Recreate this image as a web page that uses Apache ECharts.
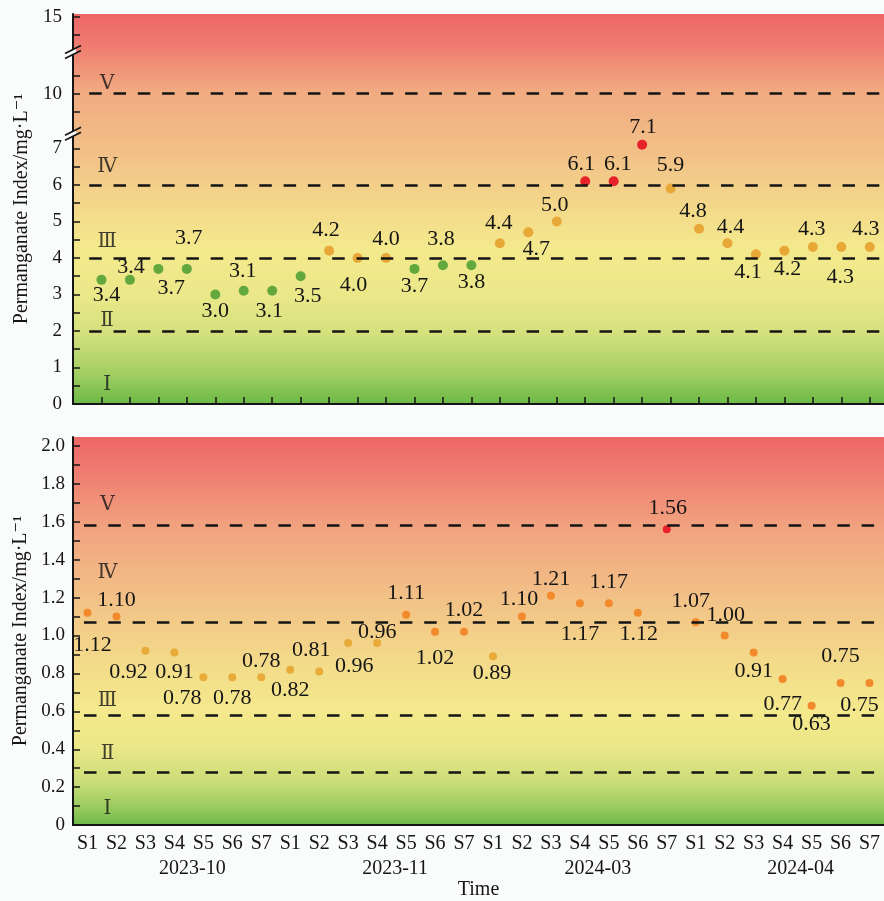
<!DOCTYPE html>
<html>
<head>
<meta charset="utf-8">
<script src="https://cdn.jsdelivr.net/npm/echarts@6/dist/echarts.min.js"></script>
<style>
  html, body { margin: 0; padding: 0; background: #fafbfb; }
  #chart { width: 884px; height: 901px; }
</style>
</head>
<body>
<div id="chart"></div>
<script>
var months = ['2023-10', '2023-11', '2024-03', '2024-04'];
var sites = ['S1', 'S2', 'S3', 'S4', 'S5', 'S6', 'S7'];
var grades = ['Ⅰ', 'Ⅱ', 'Ⅲ', 'Ⅳ', 'Ⅴ'];

// upper panel
var topValues = [3.4, 3.4, 3.7, 3.7, 3.0, 3.1, 3.1,
  3.5, 4.2, 4.0, 4.0, 3.7, 3.8, 3.8,
  4.4, 4.7, 5.0, 6.1, 6.1, 7.1, 5.9,
  4.8, 4.4, 4.1, 4.2, 4.3, 4.3, 4.3];
var topClass = [2, 2, 2, 2, 2, 2, 2,
  2, 3, 3, 3, 2, 2, 2,
  3, 3, 3, 4, 4, 4, 3,
  3, 3, 3, 3, 3, 3, 3];
var topLimits = [2, 4, 6, 10];
var topTickLabels = [0, 1, 2, 3, 4, 5, 6, 7, 10, 15];
var topMinorTicks = [0.5, 1.5, 2.5, 3.5, 4.5, 5.5, 6.5, 9.5, 10.5, 14.5];
var topGradeAt = [0.52, 2.28, 4.43, 6.5, 10.27];

// lower panel
var lowValues = [1.12, 1.10, 0.92, 0.91, 0.78, 0.78, 0.78,
  0.82, 0.81, 0.96, 0.96, 1.11, 1.02, 1.02,
  0.89, 1.10, 1.21, 1.17, 1.17, 1.12, 1.56,
  1.07, 1.00, 0.91, 0.77, 0.63, 0.75, 0.75];
var lowClass = [4, 4, 3, 3, 3, 3, 3,
  3, 3, 3, 3, 4, 4, 4,
  3, 4, 4, 4, 4, 4, 5,
  4, 4, 4, 4, 4, 4, 4];
var lowLimits = [0.28, 0.58, 1.075, 1.58];
var lowTickLabels = [0, 0.2, 0.4, 0.6, 0.8, 1.0, 1.2, 1.4, 1.6, 1.8, 2.0];
var lowMinorTicks = [0.1, 0.3, 0.5, 0.7, 0.9, 1.1, 1.3, 1.5, 1.7, 1.9];
var lowGradeAt = [0.084, 0.374, 0.654, 1.333, 1.69];

// where each value label sits relative to its point [dx, dy]
var topLabelShift = [[5, 15], [1, -13], [13, 19], [2, -31], [0, 17], [-1, -20], [-3, 20],
  [7, 20], [-3, -20], [-4, 27], [0, -19], [0, 17], [-2, -26], [0, 17],
  [-1, -20], [8, 17], [-2, -16], [-4, -17], [4, -17], [1, -18], [0, -23],
  [-6, -18], [3, -16], [-8, 18], [3, 19], [-1, -18], [-1, 30], [-4, -18]];
var lowLabelShift = [[5, 32], [0, -16], [-17, 22], [0, 20], [-21, 21], [0, 21], [0, -16],
  [0, 21], [-8, -21], [6, 23], [0, -11], [0, -21], [0, 27], [0, -21],
  [-1, 17], [-3, -17], [0, -16], [0, 31], [0, -21], [1, 21], [1, -21],
  [-5, -21], [1, -20], [0, 19], [0, 25], [0, 19], [0, -27], [-10, 22]];

var serif = "'Liberation Serif', 'Times New Roman', 'DejaVu Serif', serif";
var ink = '#151515';
var topColors = { 2: '#62a83e', 3: '#e8a838', 4: '#e8222b' };
var lowColors = { 3: '#e8ab3a', 4: '#f28a2c', 5: '#e8222b' };

var categories = [];
months.forEach(function () {
  sites.forEach(function (s) { categories.push(s); });
});

// broken upper axis: 0-7.x linear, then 9.5-10.5, then 14.5-15
function toU(v) {
  if (v <= 7.7) return v;
  if (v <= 11.5) return v - 1.5;
  return v - 4.4;
}

var topLabelU = topTickLabels.map(toU);
var topTickU = topTickLabels.concat(topMinorTicks).map(toU);

function grad(stops) {
  return { type: 'linear', x: 0, y: 0, x2: 0, y2: 1, colorStops: stops };
}

var chart = echarts.init(document.getElementById('chart'));

var option = {
  backgroundColor: '#fafbfb',
  animation: false,
  textStyle: { fontFamily: serif, color: ink },
  grid: [
    {
      left: 73, right: 0, top: 14, height: 390, show: true, borderWidth: 0,
      backgroundColor: grad([
        { offset: 0, color: '#ee6767' },
        { offset: 0.08, color: '#ef7b70' },
        { offset: 0.2, color: '#f1ab81' },
        { offset: 0.35, color: '#f2bf87' },
        { offset: 0.48, color: '#f3d68a' },
        { offset: 0.6, color: '#f4e98c' },
        { offset: 0.72, color: '#ebe889' },
        { offset: 0.82, color: '#d3e17d' },
        { offset: 0.92, color: '#a4cf63' },
        { offset: 1, color: '#6cb947' }
      ])
    },
    {
      left: 73, right: 0, top: 437, height: 389, show: true, borderWidth: 0,
      backgroundColor: grad([
        { offset: 0, color: '#ee6767' },
        { offset: 0.08, color: '#ef7a70' },
        { offset: 0.23, color: '#f1a27f' },
        { offset: 0.42, color: '#f2c287' },
        { offset: 0.6, color: '#f3dd8a' },
        { offset: 0.71, color: '#f4e98c' },
        { offset: 0.8, color: '#ebe788' },
        { offset: 0.89, color: '#cadd78' },
        { offset: 0.96, color: '#95c95c' },
        { offset: 1, color: '#6cb947' }
      ])
    }
  ],
  xAxis: [
    {
      type: 'value', gridIndex: 0, min: 0, max: 28.5,
      axisLine: { onZero: false, lineStyle: { color: ink, width: 2 } },
      axisTick: {
        inside: true, length: 7, lineStyle: { color: ink, width: 1.5 },
        customValues: categories.map(function (c, i) { return i + 1; })
      },
      axisLabel: { show: false },
      splitLine: { show: false }
    },
    {
      type: 'category', gridIndex: 1, data: categories, boundaryGap: true,
      axisLine: { onZero: false, lineStyle: { color: ink, width: 2 } },
      axisTick: { inside: true, alignWithLabel: true, length: 7, lineStyle: { color: ink, width: 1.5 } },
      axisLabel: { margin: 9, fontSize: 20, fontFamily: serif, color: ink, interval: 0 },
      splitLine: { show: false }
    },
    {
      type: 'category', gridIndex: 1, data: months, boundaryGap: true, position: 'bottom',
      axisLine: { show: false },
      axisTick: { show: false },
      axisLabel: { margin: 34, fontSize: 20, fontFamily: serif, color: ink, padding: [0, 0, 0, 36] },
      name: 'Time', nameLocation: 'middle', nameGap: 53,
      nameTextStyle: { fontSize: 20, fontFamily: serif, color: ink }
    }
  ],
  yAxis: [
    {
      type: 'value', gridIndex: 0, min: 0, max: 10.68,
      axisLine: { show: true, onZero: false, lineStyle: { color: ink, width: 2 } },
      axisTick: { show: true, inside: true, length: 7, lineStyle: { color: ink, width: 1.5 }, customValues: topTickU },
      axisLabel: {
        margin: 11, fontSize: 19, fontFamily: serif, color: ink, customValues: topLabelU,
        formatter: function (u) {
          for (var i = 0; i < topLabelU.length; i++) {
            if (Math.abs(topLabelU[i] - u) < 1e-6) return String(topTickLabels[i]);
          }
          return '';
        }
      },
      splitLine: { show: false },
      name: 'Permanganate Index/mg·L⁻¹', nameLocation: 'middle', nameGap: 41,
      nameTextStyle: { fontSize: 20, fontFamily: serif, color: ink }
    },
    {
      type: 'value', gridIndex: 1, min: 0, max: 2.047,
      axisLine: { show: true, onZero: false, lineStyle: { color: ink, width: 2 } },
      axisTick: { show: true, inside: true, length: 7, lineStyle: { color: ink, width: 1.5 }, customValues: lowTickLabels.concat(lowMinorTicks) },
      axisLabel: {
        margin: 8, fontSize: 19, fontFamily: serif, color: ink, customValues: lowTickLabels,
        formatter: function (v) { return v === 0 ? '0' : v.toFixed(1); }
      },
      splitLine: { show: false },
      name: 'Permanganate Index/mg·L⁻¹', nameLocation: 'middle', nameGap: 41,
      nameTextStyle: { fontSize: 20, fontFamily: serif, color: ink }
    }
  ],
  series: [
    {
      // class limits, upper
      type: 'scatter', xAxisIndex: 0, yAxisIndex: 0, data: [], z: 1, silent: true,
      markLine: {
        silent: true, symbol: 'none', label: { show: false },
        lineStyle: { color: ink, width: 2.5, type: [12.5, 11.8], opacity: 1 },
        data: topLimits.map(function (v) {
          return [{ coord: [0.57, toU(v)] }, { coord: [28.5, toU(v)] }];
        })
      }
    },
    {
      type: 'scatter', xAxisIndex: 0, yAxisIndex: 0, z: 3, symbolSize: 10,
      data: topValues.map(function (v, i) {
        return {
          value: [i + 1, toU(v)],
          itemStyle: { color: topColors[topClass[i]], opacity: 1 },
          label: { offset: topLabelShift[i] }
        };
      }),
      label: {
        show: true, position: 'inside', fontSize: 22, fontFamily: serif, color: ink,
        formatter: function (p) { return topValues[p.dataIndex].toFixed(1); }
      }
    },
    {
      type: 'scatter', xAxisIndex: 0, yAxisIndex: 0, z: 2, symbolSize: 0, silent: true,
      data: topGradeAt.map(function (v) { return [1.2, toU(v)]; }),
      label: {
        show: true, position: 'inside', fontSize: 20, fontFamily: serif, color: ink,
        formatter: function (p) { return grades[p.dataIndex]; }
      }
    },
    {
      // class limits, lower
      type: 'scatter', xAxisIndex: 1, yAxisIndex: 1, data: [], z: 1, silent: true,
      markLine: {
        silent: true, symbol: 'none', label: { show: false },
        lineStyle: { color: ink, width: 2.5, type: [12.5, 11.8], dashOffset: 13.3, opacity: 1 },
        data: lowLimits.map(function (v) { return { yAxis: v }; })
      }
    },
    {
      type: 'scatter', xAxisIndex: 1, yAxisIndex: 1, z: 3, symbolSize: 8,
      data: lowValues.map(function (v, i) {
        return {
          value: [i, v],
          itemStyle: { color: lowColors[lowClass[i]], opacity: 1 },
          label: { offset: lowLabelShift[i] }
        };
      }),
      label: {
        show: true, position: 'inside', fontSize: 22, fontFamily: serif, color: ink,
        formatter: function (p) { return lowValues[p.dataIndex].toFixed(2); }
      }
    },
    {
      type: 'scatter', xAxisIndex: 1, yAxisIndex: 1, z: 2, symbolSize: 0, silent: true,
      data: lowGradeAt.map(function (v) { return [0, v]; }),
      label: {
        show: true, position: 'inside', offset: [20, 0], fontSize: 20, fontFamily: serif, color: ink,
        formatter: function (p) { return grades[p.dataIndex]; }
      }
    }
  ]
};

chart.setOption(option);

// "//" break marks on the upper y axis
function breakMark(u) {
  var p = chart.convertToPixel({ gridIndex: 0 }, [0, u]);
  var x = p[0], y = p[1];
  return [
    {
      type: 'polygon', z: 100, silent: true,
      shape: { points: [[x - 3, y - 1], [x + 3, y - 4], [x + 3, y + 1], [x - 3, y + 4]] },
      style: { fill: '#fafbfb' }
    },
    {
      type: 'line', z: 101, silent: true,
      shape: { x1: x - 8, y1: y + 1.5, x2: x + 8, y2: y - 6.5 },
      style: { stroke: ink, lineWidth: 1.8 }
    },
    {
      type: 'line', z: 101, silent: true,
      shape: { x1: x - 8, y1: y + 6.5, x2: x + 8, y2: y - 1.5 },
      style: { stroke: ink, lineWidth: 1.8 }
    }
  ];
}

chart.setOption({ graphic: breakMark(7.4).concat(breakMark(9.64)) });
</script>
</body>
</html>
